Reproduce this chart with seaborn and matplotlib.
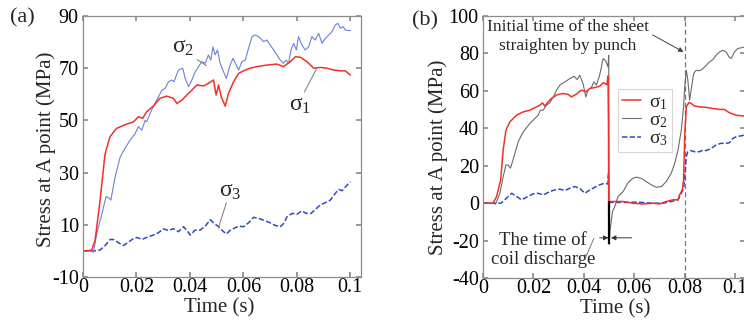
import numpy as np
import pandas as pd
import matplotlib
matplotlib.use("Agg")
import matplotlib.pyplot as plt
import seaborn as sns

# ---------------- data ----------------
# Panel (a)
a_s1_t = [0, 0.0032, 0.0045, 0.0064, 0.0082, 0.0101, 0.0126, 0.0164, 0.0189, 0.0207, 0.0223, 0.0238,
          0.0263, 0.0288, 0.0313, 0.0338, 0.0351, 0.037, 0.0388, 0.0407, 0.0426, 0.0451, 0.0469, 0.0488,
          0.0498, 0.0507, 0.0517, 0.0532, 0.0544, 0.0563, 0.0582, 0.06, 0.0625, 0.065, 0.0688, 0.0725,
          0.075, 0.0775, 0.0794, 0.0813, 0.0838, 0.0863, 0.0888, 0.0913, 0.0938, 0.0963, 0.0981, 0.1]
a_s1_v = [0, 0.3, 4, 19.5, 37, 43.8, 47, 48.6, 49.5, 51.4, 50.8, 53.3,
          55.5, 58.5, 59.3, 58.5, 56.5, 57.8, 59.7, 61.6, 63.6, 63.2, 64.2, 65.5,
          59.7, 63.6, 59, 55.5, 60.3, 64.8, 68, 69, 70, 70.6, 71.2, 71.6,
          70.6, 72.5, 74.4, 74.2, 72.5, 70, 70.3, 70, 69.3, 69, 69, 67.4]

a_s2_t = [0, 0.003, 0.0039, 0.0051, 0.007, 0.0086, 0.0095, 0.0104, 0.012, 0.0139, 0.0157, 0.0176,
          0.0195, 0.0207, 0.022, 0.0232, 0.0238, 0.0251, 0.0263, 0.0282, 0.0295, 0.0307, 0.032, 0.0332,
          0.034, 0.0357, 0.0373, 0.0382, 0.0395, 0.0407, 0.042, 0.0432, 0.0444, 0.0457, 0.0469, 0.0478,
          0.0486, 0.0494, 0.0503, 0.0513, 0.0523, 0.0536, 0.0548, 0.0561, 0.0573, 0.0582, 0.0594, 0.0607,
          0.0619, 0.0632, 0.0644, 0.0657, 0.0675, 0.0688, 0.07, 0.0713, 0.0725, 0.0738, 0.075, 0.076,
          0.0769, 0.0778, 0.0788, 0.0798, 0.0806, 0.0819, 0.0831, 0.0844, 0.0856, 0.0869, 0.0881, 0.0894,
          0.0906, 0.0919, 0.0931, 0.0944, 0.0953, 0.0963, 0.0973, 0.0981, 0.1]
a_s2_v = [0, 0, -0.5, 6.5, 14, 20.8, 20.5, 19.5, 28.4, 36, 39.3, 42.5,
          45, 47.6, 46.3, 50, 49.5, 52.7, 55.3, 59, 61.6, 62.3, 64.8, 65.5,
          64.8, 69.3, 70, 66.1, 62.9, 65.5, 68.7, 70.6, 72.5, 71.9, 75.1, 73.1,
          78.2, 75.1, 77, 71.9, 69.3, 66.1, 70.6, 73.8, 71.2, 69.3, 72.5, 73.1,
          77.6, 82.1, 82.7, 82.1, 80.2, 80.8, 78.9, 77, 75.1, 73.1, 71.9, 73.1,
          71.9, 77, 79.5, 77, 82.1, 78.9, 77, 78.2, 82.1, 80.8, 83.4, 79.5,
          81.4, 82.7, 84, 86.6, 87.2, 85.3, 85.9, 84.6, 84.4]

a_s3_t = [0, 0.004, 0.0064, 0.0082, 0.0101, 0.0114, 0.0132, 0.0151, 0.017, 0.0189, 0.0203, 0.022,
          0.0238, 0.0263, 0.0282, 0.0301, 0.032, 0.0338, 0.0357, 0.0376, 0.0388, 0.0401, 0.0419, 0.0438,
          0.0457, 0.0476, 0.0488, 0.0507, 0.0519, 0.0536, 0.0551, 0.0563, 0.0582, 0.06, 0.0619, 0.0638,
          0.0657, 0.0675, 0.07, 0.0719, 0.0738, 0.075, 0.0763, 0.0782, 0.08, 0.0819, 0.0835, 0.0853,
          0.0869, 0.0888, 0.0906, 0.0925, 0.0944, 0.0956, 0.0969, 0.0988, 0.1]
a_s3_v = [0, 0, 0.4, 2, 4.4, 4.4, 3.2, 2.1, 3.4, 4.8, 5.2, 4.4,
          5.2, 6.1, 7, 8.5, 7.8, 8.6, 7.4, 9.3, 8, 6.1, 8, 8,
          9.5, 12, 10.8, 9.3, 8, 6.5, 8, 8.6, 9.5, 9.3, 10.8, 12.9,
          12.5, 11.8, 10.8, 9.8, 9.3, 10.5, 13.1, 14.4, 14.1, 15.4, 14.4, 14.4,
          15.9, 17.7, 18.5, 19.5, 22.1, 23.6, 23.1, 25.3, 26.5]

# Panel (b)
b_s1_t = [0, 0.004, 0.0054, 0.007, 0.008, 0.0091, 0.0107, 0.0133, 0.016, 0.0186, 0.0213, 0.0226,
          0.0236, 0.0245, 0.0259, 0.0272, 0.0292, 0.0318, 0.0338, 0.0351, 0.0371, 0.039, 0.0408, 0.0424,
          0.0444, 0.0463, 0.0477, 0.0492, 0.0496, 0.0498, 0.0499, 0.0502, 0.0556, 0.0595, 0.0635, 0.0675,
          0.07, 0.0727, 0.0754, 0.0774, 0.078, 0.0791, 0.0796, 0.0801, 0.0807, 0.0817, 0.0826, 0.084,
          0.0859, 0.0886, 0.0912, 0.0939, 0.0958, 0.0978, 0.1005, 0.104]
b_s1_v = [0, 0, 3.6, 12.4, 28.4, 39, 43.5, 47, 48.8, 49.7, 51.5, 52.4,
          53.6, 51.9, 54.2, 56, 57.8, 58.6, 58.1, 56.8, 58.3, 60.4, 59.5, 61.3,
          61.8, 62.5, 64.3, 63.4, 68, 42, -5, 0.9, 0.9, 0, -0.4, 0,
          -0.4, 0.9, 1.8, 1.8, 4.4, 7.1, 12.4, 37.3, 51.5, 53.8, 53.3, 51.9,
          51.5, 51.2, 50.6, 50.1, 50.1, 48.3, 47, 46.5]

b_s2_t = [0, 0.004, 0.005, 0.0067, 0.008, 0.0091, 0.01, 0.0109, 0.0123, 0.014, 0.016, 0.0186,
          0.0206, 0.0219, 0.0228, 0.0239, 0.0252, 0.0265, 0.0279, 0.0292, 0.0305, 0.0325, 0.0345, 0.0361,
          0.0374, 0.0384, 0.0397, 0.0408, 0.0417, 0.043, 0.044, 0.045, 0.0463, 0.0477, 0.0487, 0.0496,
          0.0499, 0.0501, 0.0504, 0.0514, 0.0523, 0.0536, 0.0556, 0.0576, 0.0595, 0.0609, 0.0628, 0.0648,
          0.0668, 0.0688, 0.0708, 0.0727, 0.0747, 0.0761, 0.0774, 0.0787, 0.0796, 0.0801, 0.0807, 0.0813,
          0.082, 0.0826, 0.0836, 0.0846, 0.0859, 0.0873, 0.0886, 0.0899, 0.0912, 0.0925, 0.0939, 0.0952,
          0.0965, 0.0976, 0.0985, 0.0998, 0.1011, 0.104]
b_s2_v = [0, 0, -0.5, 5.3, 14.2, 20.4, 20.4, 18.7, 24.9, 32.9, 38.2, 42.6,
          45.3, 47, 49.7, 49.7, 52.4, 53.6, 56.8, 60.4, 63.1, 64.8, 66.6, 67.8,
          66.1, 68.4, 63.9, 56.8, 60.4, 61.8, 64.8, 63.1, 68.4, 77.3, 76, 72.8,
          79, -22, -15, -4.4, -1.8, 3.6, 6.2, 11, 13.3, 13.9, 13.3, 11.5,
          9.8, 8.5, 8.9, 11.5, 16, 21.3, 28.4, 39, 51.5, 63.1, 71, 65.7,
          55.1, 60.4, 69.3, 71, 70.7, 71.9, 73.7, 75.5, 76.7, 79, 80.8, 81.7,
          80.8, 78.2, 77.3, 80.8, 82.6, 83.5]

b_s3_t = [0, 0.007, 0.008, 0.01, 0.0114, 0.0133, 0.0153, 0.0173, 0.0199, 0.0219, 0.0239, 0.0265,
          0.0285, 0.0305, 0.0325, 0.0345, 0.0364, 0.0384, 0.0404, 0.0424, 0.0444, 0.0463, 0.0483, 0.0496,
          0.0498, 0.0500, 0.0503, 0.0556, 0.0609, 0.0675, 0.0715, 0.0747, 0.0774, 0.0787, 0.0796, 0.0801,
          0.0807, 0.0813, 0.0826, 0.084, 0.0859, 0.0873, 0.0886, 0.0906, 0.0925, 0.0945, 0.0965, 0.0978,
          0.0991, 0.1005, 0.104]
b_s3_v = [0, 0, 0.9, 3.6, 5.3, 3.6, 1.8, 3.2, 5, 5.3, 4.4, 6.2,
          7.1, 7.5, 6.8, 8, 8.9, 8, 5.3, 7.1, 8.5, 9.8, 10.7, 10.3,
          16, -5, 0.5, 0.4, 0.6, 0, 0, 0.9, 1.8, 5.3, 8, 14.2,
          24.9, 27.5, 28.1, 27.5, 27.5, 28.4, 28.1, 29.3, 31.1, 32, 32, 32.3,
          34.6, 35.5, 36.4]

discharge_t = 0.0502
discharge_v = [-22, 1]
punch_t = 0.08

series_labels = [r"$\sigma_1$", r"$\sigma_2$", r"$\sigma_3$"]

# ---------------- style ----------------
sns.set_theme(style="ticks")
plt.rcParams.update({
    "font.family": ["Liberation Serif", "DejaVu Serif"],
    "mathtext.fontset": "custom",
    "mathtext.rm": "Liberation Serif",
    "mathtext.it": "Liberation Serif",
    "mathtext.bf": "Liberation Serif:bold",
    "axes.unicode_minus": False,
    "axes.edgecolor": "#8c8c8c",
    "axes.linewidth": 0.9,
    "xtick.direction": "in",
    "ytick.direction": "in",
    "xtick.top": True,
    "ytick.right": True,
    "xtick.major.size": 3.5,
    "ytick.major.size": 3.5,
    "xtick.color": "#8c8c8c",
    "ytick.color": "#8c8c8c",
    "xtick.labelcolor": "black",
    "ytick.labelcolor": "black",
    "xtick.labelsize": 14.5,
    "ytick.labelsize": 14.5,
    "xtick.major.pad": 0.5,
    "ytick.major.pad": 3,
})

RED = "#f2302a"
LBLUE = "#6b80de"
DBLUE = "#3347c4"
GRAY = "#6a6a6a"

fig = plt.figure(figsize=(7.44, 3.2), dpi=100)
ax1 = fig.add_axes([0.1116, 0.134, 0.3737, 0.816])
ax2 = fig.add_axes([0.6492, 0.131, 0.3522, 0.819])

def draw(ax, t, v, color, lw, ls="-", label=None):
    df = pd.DataFrame({"t": t, "v": v})
    sns.lineplot(data=df, x="t", y="v", ax=ax, color=color, linewidth=lw,
                 linestyle=ls, sort=False, estimator=None, label=label, legend=False)

# ---- panel (a)
draw(ax1, a_s3_t, a_s3_v, DBLUE, 1.1, (0, (3.5, 1.5)))
draw(ax1, a_s2_t, a_s2_v, LBLUE, 0.8)
draw(ax1, a_s1_t, a_s1_v, RED, 1.1)
ax1.set_xlim(0, 0.104)
ax1.set_ylim(-10, 90)
ax1.set_xticks([0, 0.02, 0.04, 0.06, 0.08, 0.1])
ax1.set_xticklabels(["0", "0.02", "0.04", "0.06", "0.08", "0.1"])
ax1.set_yticks([-10, 10, 30, 50, 70, 90])
ax1.set_xlabel("Time (s)", fontsize=15)
ax1.set_ylabel("Stress at A point (MPa)", fontsize=15)
ax1.xaxis.set_label_coords(0.49, -0.08)
ax1.yaxis.set_label_coords(-0.097, 0.49)

lead = dict(arrowstyle="-", color="#777777", lw=0.7, shrinkA=0, shrinkB=0)
ax1.text(0.0375, 78.1, series_labels[1], fontsize=17, ha="center", va="center")
ax1.annotate("", xy=(0.0462, 71), xytext=(0.0427, 73.3), arrowprops=lead)
ax1.text(0.0813, 55.9, series_labels[0], fontsize=17, ha="center", va="center")
ax1.annotate("", xy=(0.0873, 69.7), xytext=(0.0828, 60.9), arrowprops=lead)
ax1.text(0.0551, 22.6, series_labels[2], fontsize=17, ha="center", va="center")
ax1.annotate("", xy=(0.0506, 8.8), xytext=(0.0536, 18.4), arrowprops=lead)

# ---- panel (b)
draw(ax2, b_s3_t, b_s3_v, DBLUE, 1.1, (0, (3.5, 1.5)), label=series_labels[2])
draw(ax2, b_s2_t, b_s2_v, GRAY, 0.8, label=series_labels[1])
draw(ax2, b_s1_t, b_s1_v, RED, 1.1, label=series_labels[0])
ax2.vlines(discharge_t, discharge_v[0], discharge_v[1], color="black", lw=1.6, zorder=4)
ax2.axvline(punch_t, color="#777777", lw=0.9, ls=(0, (4, 2.5)), zorder=1)
ax2.set_xlim(0, 0.104)
ax2.set_ylim(-40, 100)
ax2.set_xticks([0, 0.02, 0.04, 0.06, 0.08, 0.1])
ax2.set_xticklabels(["0", "0.02", "0.04", "0.06", "0.08", "0.1"])
ax2.set_yticks([-40, -20, 0, 20, 40, 60, 80, 100])
ax2.set_xlabel("Time (s)", fontsize=15)
ax2.set_ylabel("Stress at A point (MPa)", fontsize=15)
ax2.xaxis.set_label_coords(0.505, -0.08)
ax2.yaxis.set_label_coords(-0.135, 0.46)

ax2.text(0.0337, 89.3, "Initial time of the sheet\nstraighten by punch", fontsize=12.5,
         ha="center", va="center", linespacing=1.25)
ax2.annotate("", xy=(0.0796, 80.8), xytext=(0.0673, 89.9),
             arrowprops=dict(arrowstyle="-|>", color="#444444", lw=0.7, mutation_scale=7,
                             shrinkA=0, shrinkB=0))
ax2.text(0.0238, -25.2, "The time of\ncoil discharge", fontsize=13.5,
         ha="center", va="center", linespacing=1.15)
arr = dict(arrowstyle="-|>", color="#333333", lw=0.7, mutation_scale=7, shrinkA=0, shrinkB=0)
ax2.annotate("", xy=(0.0498, -18.5), xytext=(0.0463, -18.5), arrowprops=arr)
ax2.annotate("", xy=(0.0508, -18.5), xytext=(0.0590, -18.5), arrowprops=arr)
ax2.annotate("", xy=(0.0404, -30), xytext=(0.044, -18.8), arrowprops=lead)

h, l = ax2.get_legend_handles_labels()
order = [l.index(s) for s in series_labels]
leg = ax2.legend([h[i] for i in order], [l[i] for i in order], loc="upper left",
                 bbox_to_anchor=(0.515, 0.72), fontsize=14, frameon=True, fancybox=False,
                 edgecolor="#cccccc", handlelength=1.0, handletextpad=0.4, borderpad=0.2,
                 labelspacing=0.0, borderaxespad=0)
leg.get_frame().set_linewidth(0.8)

fig.text(0.03, 0.945, "(a)", fontsize=16, ha="center", va="center")
fig.text(0.571, 0.935, "(b)", fontsize=16, ha="center", va="center")

fig.savefig("out.png", dpi=100)
